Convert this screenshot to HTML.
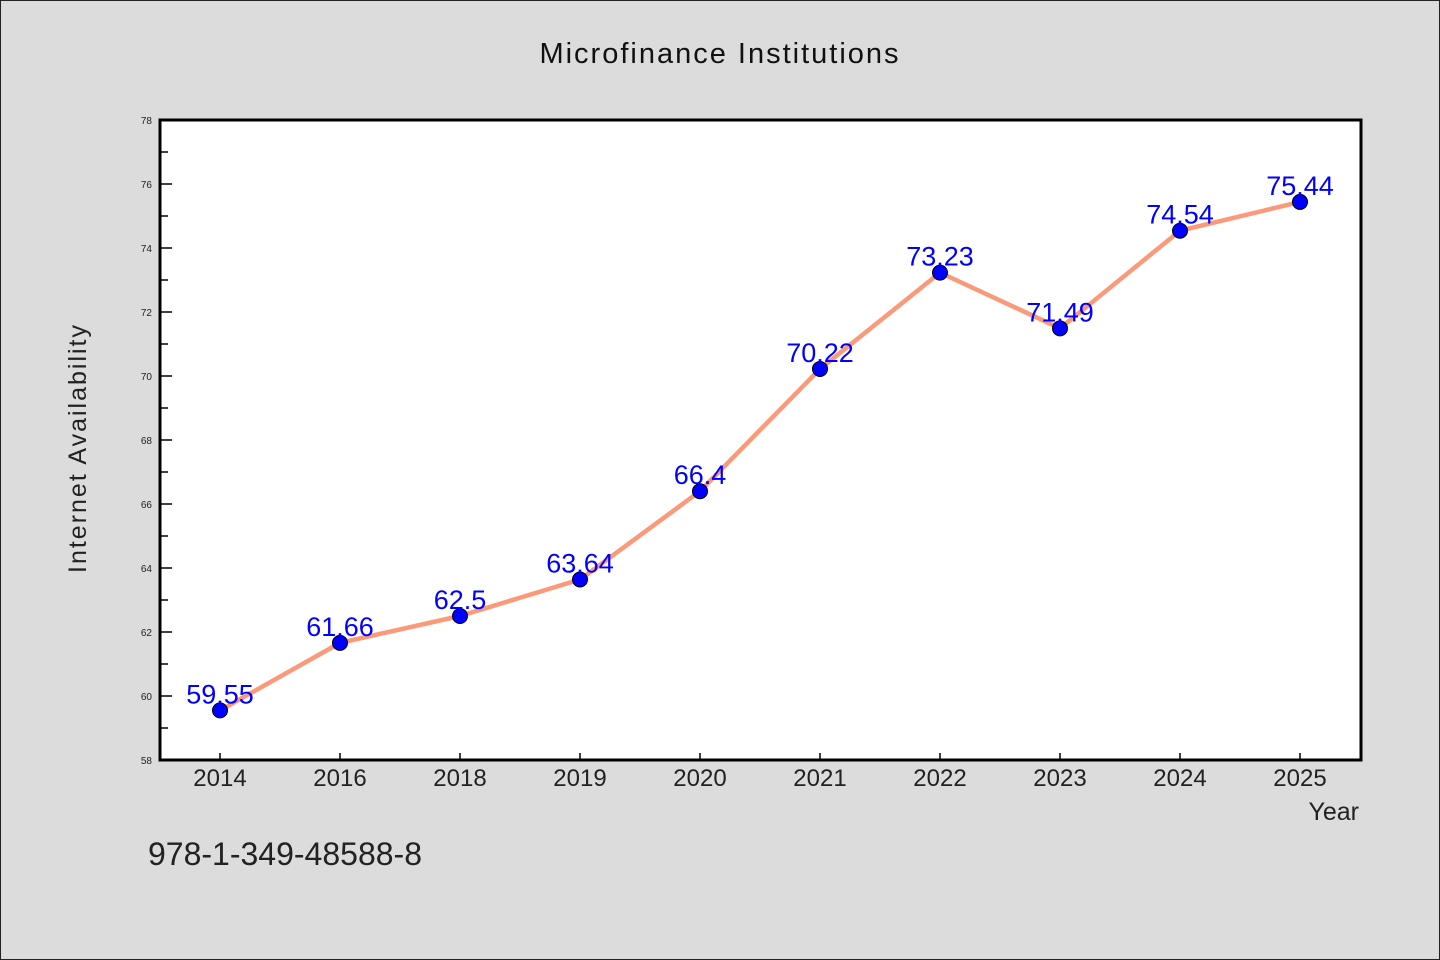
<!DOCTYPE html>
<html><head><meta charset="utf-8"><style>
body{margin:0;background:#dcdcdc}
svg{display:block}
text{font-family:"WenQuanYi Zen Hei","Liberation Sans",sans-serif}
</style></head><body>
<svg id="c" width="1440" height="960" xmlns="http://www.w3.org/2000/svg">
<rect x="0.5" y="0.5" width="1439" height="959" fill="#dcdcdc" stroke="#222"/>
<text x="720" y="63" text-anchor="middle" font-size="29" fill="#111" letter-spacing="2">Microfinance Institutions</text>
<rect x="160" y="120" width="1201" height="640" fill="#fff"/>
<g id="axes"></g>
<g id="marks"></g>
<rect x="160" y="120" width="1201" height="640" fill="none" stroke="#000" stroke-width="3"/>
<text transform="translate(86,448) rotate(-90)" text-anchor="middle" font-size="25" fill="#222" letter-spacing="2">Internet Availability</text>
<text x="1359" y="820" text-anchor="end" font-size="25" fill="#222">Year</text>
<text x="148" y="865" font-size="32" fill="#222">978-1-349-48588-8</text>
</svg>
<script>
const categories=["2014","2016","2018","2019","2020","2021","2022","2023","2024","2025"];
const values=[59.55,61.66,62.5,63.64,66.4,70.22,73.23,71.49,74.54,75.44];
const labels=["59.55","61.66","62.5","63.64","66.4","70.22","73.23","71.49","74.54","75.44"];
const yTicks=[58,60,62,64,66,68,70,72,74,76,78];
const NS="http://www.w3.org/2000/svg";
const L=160,R=1361,T=120,B=760,yMin=58,yMax=78;
const x=i=>220+i*(R-L-100+ -1)/ (categories.length-1)*1+0;
function xs(i){return 220+i*((1300-220)/(categories.length-1));}
function ys(v){return B-(v-yMin)/(yMax-yMin)*(B-T);}
function mk(t,a,p){const e=document.createElementNS(NS,t);for(const k in a)e.setAttribute(k,a[k]);p.appendChild(e);return e;}
const ax=document.getElementById('axes'),mg=document.getElementById('marks');
yTicks.forEach(v=>{
 const l=mk('line',{x1:L,x2:L+12,y1:ys(v),y2:ys(v),stroke:'#000','stroke-width':1.5},ax);
 
 
 const t=mk('text',{x:152,y:ys(v)+4,'text-anchor':'end','font-size':10,fill:'#222'},ax);
 t.textContent=v;
 
 
 if(v<yMax){const m=mk('line',{x1:L,x2:L+8,y1:ys(v+1),y2:ys(v+1),stroke:'#000','stroke-width':1.5},ax);
 
 }
});
categories.forEach((c,i)=>{
 const l=mk('line',{x1:xs(i),x2:xs(i),y1:B,y2:B-7,stroke:'#000','stroke-width':1.5},ax);
 
 
 const t=mk('text',{x:xs(i),y:786,'text-anchor':'middle','font-size':24,fill:'#222'},ax);
 t.textContent=c;
 
 
});
const pl=mk('polyline',{points:values.map((v,i)=>xs(i)+','+ys(v)).join(' '),fill:'none',stroke:'#fa9a7a','stroke-width':4.5,'stroke-linejoin':'round'},mg);


values.forEach((v,i)=>{
 const c=mk('circle',{cx:xs(i),cy:ys(v),r:7.5,fill:'#0000ff',stroke:'#000','stroke-width':1},mg);
 
 
});
values.forEach((v,i)=>{
 const t=mk('text',{x:xs(i),y:ys(v)-7,'text-anchor':'middle','font-size':27,fill:'#0000ff'},mg);
 t.textContent=labels[i];
 
 
});
</script>
</body></html>
